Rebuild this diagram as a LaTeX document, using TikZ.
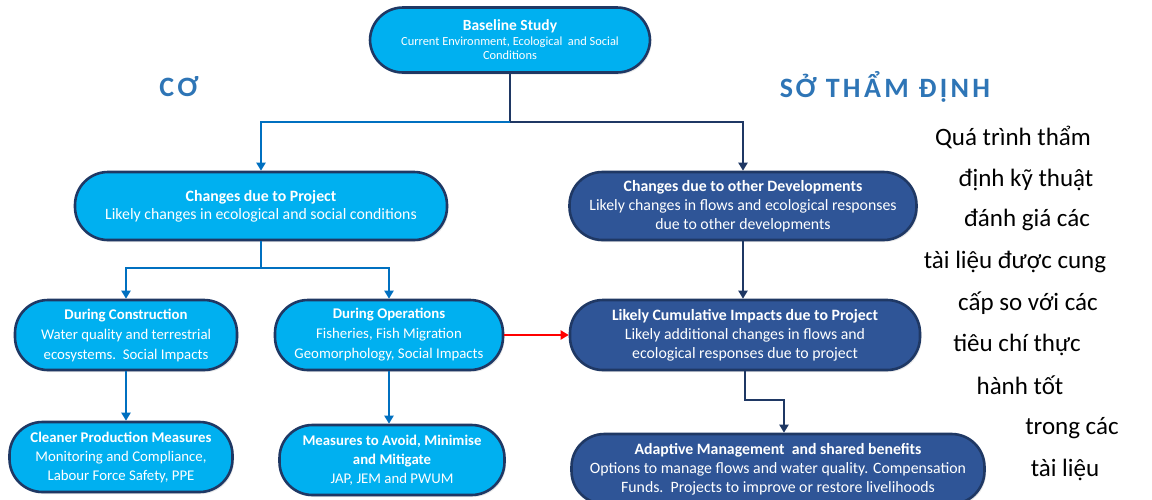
\documentclass[tikz,border=0pt]{standalone}
\usepackage{fontspec}
\setmainfont{Carlito}
\newfontfamily\headfont[LetterSpace=12]{Carlito}
\usetikzlibrary{arrows.meta,shadows}
\definecolor{lb}{HTML}{00B0F0}
\definecolor{nv}{HTML}{1F3864}
\definecolor{db}{HTML}{2F5597}
\definecolor{cb}{HTML}{0070C0}
\definecolor{hd}{HTML}{2E75B6}
\definecolor{rd}{HTML}{FF0000}
\begin{document}
\begin{tikzpicture}[x=1pt,y=-1pt,
  pill/.style={draw=nv, line width=2.6pt, rounded corners=33pt, fill=lb, text=white,
    align=center, inner sep=0pt, font=\fontsize{15.8}{19}\selectfont,
    drop shadow={opacity=0.18, shadow xshift=1.5pt, shadow yshift=-2pt}},
  darkpill/.style={pill, fill=db},
  smallpill/.style={pill, font=\fontsize{14.8}{20}\selectfont},
  cbline/.style={draw=cb, line width=2.6pt},
  nvline/.style={draw=nv, line width=2.6pt},
  rdline/.style={draw=rd, line width=2pt},
  arrowtip/.style={-{Triangle[length=8pt,width=9pt]}},
  headtext/.style={text=hd, font=\headfont\bfseries\fontsize{28}{30}\selectfont},
  sidetext/.style={text=black, inner sep=0pt, font=\fontsize{25}{28}\selectfont}]
\useasboundingbox (0,0) rectangle (1152,499);
\fill[white] (0,0) rectangle (1152,499);
\begin{scope}
\clip (0,0) rectangle (1152,499);

% boxes
\node[pill, minimum width=280pt, minimum height=65pt, font=\fontsize{12.4}{14.5}\selectfont] (base) at (510,40)
  {{\bfseries\fontsize{15.5}{17}\selectfont Baseline Study}\\Current Environment, Ecological\ \ and Social\\Conditions};
\node[pill, minimum width=372pt, minimum height=68pt, font=\fontsize{15.8}{18}\selectfont] (proj) at (261,206)
  {\textbf{Changes due to Project}\\Likely changes in ecological and social conditions};
\node[darkpill, minimum width=347pt, minimum height=68pt] (other) at (743,206)
  {\textbf{Changes due to other Developments}\\Likely changes in flows and ecological responses\\due to other developments};
\node[smallpill, minimum width=222pt, minimum height=70pt] (cons) at (126,335)
  {\textbf{During Construction}\\Water quality and terrestrial\\ecosystems.\ \ Social Impacts};
\node[smallpill, minimum width=228pt, minimum height=70pt] (ops) at (389,335)
  {\textbf{During Operations}\\Fisheries, Fish Migration\\Geomorphology, Social Impacts};
\node[darkpill, minimum width=350pt, minimum height=70pt] (cum) at (745,335)
  {\textbf{Likely Cumulative Impacts due to Project}\\Likely additional changes in flows and\\ecological responses due to project};
\node[smallpill, minimum width=223pt, minimum height=70pt, font=\fontsize{14.8}{19}\selectfont] (clean) at (121,457)
  {\textbf{Cleaner Production Measures}\\Monitoring and Compliance,\\Labour Force Safety, PPE};
\node[smallpill, minimum width=225pt, minimum height=70pt, font=\fontsize{14.8}{19}\selectfont] (meas) at (392,460)
  {\textbf{Measures to Avoid, Minimise}\\\textbf{and Mitigate}\\JAP, JEM and PWUM};
\node[darkpill, minimum width=413pt, minimum height=70pt] (adapt) at (778,469)
  {\textbf{Adaptive Management\ \ and shared benefits}\\Options to manage flows and water quality. Compensation\\Funds.\ \ Projects to improve or restore livelihoods};

% junctions
\coordinate (j1) at (510,122);
\coordinate (j2) at (261,268);
\coordinate (j3) at (784,400);

% connectors
\draw[nvline] (base.south) -- (j1);
\draw[cbline, arrowtip] (j1) -| (proj.north);
\draw[nvline, arrowtip] (j1) -| (other.north);
\draw[cbline] (proj.south) -- (j2);
\draw[cbline, arrowtip] (j2) -| (cons.north);
\draw[cbline, arrowtip] (j2) -| (ops.north);
\draw[nvline, arrowtip] (other.south) -- (other.south |- cum.north);
\draw[cbline, arrowtip] (cons.south) -- (cons.south |- clean.north);
\draw[cbline, arrowtip] (ops.south) -- (ops.south |- meas.north);
\draw[rdline, arrowtip] (ops.east) -- (cum.west);
\draw[nvline, arrowtip] (cum.south) |- (j3) -- (j3 |- adapt.north);

% headings
\node[headtext] (h1) at (179,87) {CƠ};
\node[headtext] (h2) at (885,87) {SỞ THẨM ĐỊNH};

% side text
\node[sidetext] (r1) at (1013,137) {Quá trình thẩm};
\node[sidetext] (r2) at (1026,180) {định kỹ thuật};
\node[sidetext] (r3) at (1027,220) {đánh giá các};
\node[sidetext] (r4) at (1015,262) {tài liệu được cung};
\node[sidetext] (r5) at (1028,303) {cấp so với các};
\node[sidetext] (r6) at (1017,345) {tiêu chí thực};
\node[sidetext] (r7) at (1020,385) {hành tốt};
\node[sidetext] (r8) at (1072,428) {trong các};
\node[sidetext] (r9) at (1065,470) {tài liệu};
\end{scope}
\end{tikzpicture}
\end{document}
